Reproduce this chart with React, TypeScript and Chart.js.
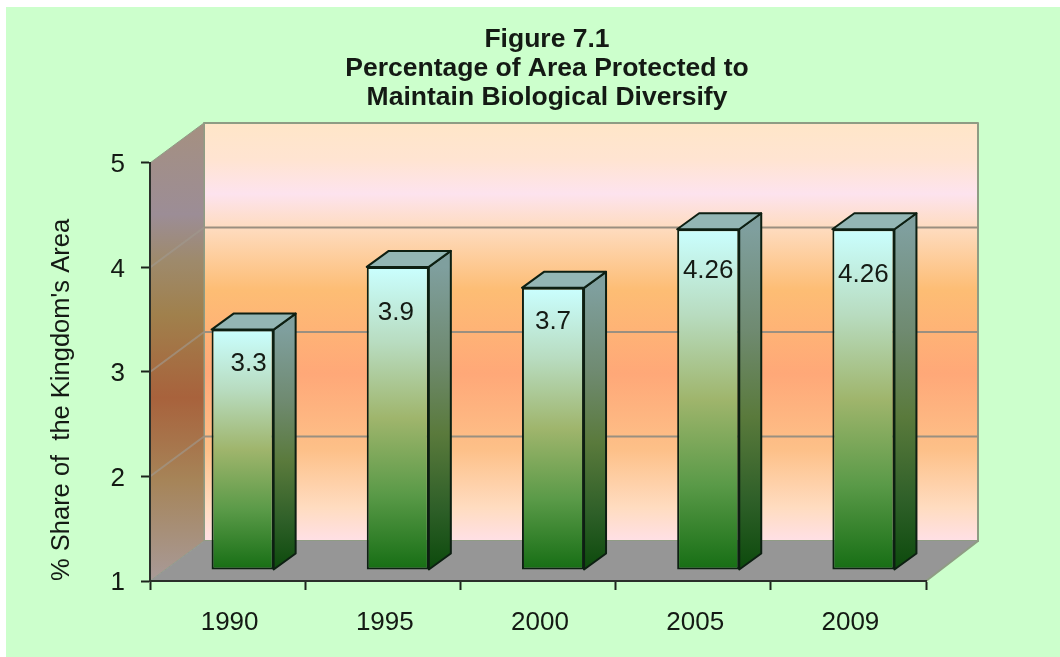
import React, { useEffect, useRef } from "react";
import { Chart, registerables } from "chart.js";

Chart.register(...registerables);

const years = ["1990", "1995", "2000", "2005", "2009"];
const shares = [3.3, 3.9, 3.7, 4.26, 4.26];
const shareLabels = ["3.3", "3.9", "3.7", "4.26", "4.26"];
const titleLines = ["Figure 7.1", "Percentage of Area Protected to", "Maintain Biological Diversify"];
const yAxisTitle = "% Share of  the Kingdom's Area";
const yTicks = [1, 2, 3, 4, 5];

const FONT = '"Liberation Sans", Arial, sans-serif';
const INK = "#141a14";
const DEPTH = { x: 54, y: -40 };
const BAR_SHIFT = { x: 15, y: -11 };
const BAR_DEPTH = { x: 22, y: -16 };
// small hand placement of each value label, relative to the bar's top centre
const LABEL_NUDGE = [
  { x: 6, y: 34 },
  { x: -2, y: 46 },
  { x: 0, y: 34 },
  { x: 0, y: 42 },
  { x: 0, y: 46 },
];

function stops(g: CanvasGradient, list: [number, string][]) {
  list.forEach(([p, c]) => g.addColorStop(p, c));
  return g;
}

function poly(ctx: CanvasRenderingContext2D, pts: number[][], fill: any, stroke?: string, lw = 1) {
  ctx.beginPath();
  pts.forEach(([x, y], i) => (i ? ctx.lineTo(x, y) : ctx.moveTo(x, y)));
  ctx.closePath();
  ctx.fillStyle = fill;
  ctx.fill();
  if (stroke) {
    ctx.strokeStyle = stroke;
    ctx.lineWidth = lw;
    ctx.lineJoin = "round";
    ctx.stroke();
  }
}

const WALL_STOPS: [number, string][] = [
  [0, "#ffe6c8"],
  [0.09, "#ffe4d2"],
  [0.17, "#fde3ee"],
  [0.25, "#fedcc0"],
  [0.4, "#fdbd74"],
  [0.6, "#ffa878"],
  [0.78, "#fdc088"],
  [0.92, "#ffdcc0"],
  [1, "#ffe0e6"],
];

const SIDE_STOPS: [number, string][] = [
  [0, "#a59080"],
  [0.2, "#9c8d96"],
  [0.3, "#9e8a6c"],
  [0.42, "#a0804c"],
  [0.6, "#a8623c"],
  [0.78, "#a68458"],
  [1, "#a89a98"],
];

const backdrop = {
  id: "backdrop",
  beforeDraw(chart: any) {
    const { ctx, width, height, chartArea: a, scales } = chart;
    const y = scales.y;
    ctx.save();
    ctx.fillStyle = "#ffffff";
    ctx.fillRect(0, 0, width, height);
    ctx.fillStyle = "#ccffcc";
    ctx.fillRect(6, 7, width - 6, height - 7);

    const bx = a.left + DEPTH.x;
    const rx = a.right + DEPTH.x - 2;
    const top = a.top + DEPTH.y;
    const bot = a.bottom + DEPTH.y;

    // back wall
    poly(ctx, [[bx, top], [rx, top], [rx, bot], [bx, bot]],
      stops(ctx.createLinearGradient(0, top, 0, bot), WALL_STOPS), "#8f9c84", 2);
    // left wall
    poly(ctx, [[a.left, a.top], [bx, top], [bx, bot], [a.left, a.bottom]],
      stops(ctx.createLinearGradient(0, top, 0, a.bottom), SIDE_STOPS), "#8f9c84", 1);
    // floor
    poly(ctx, [[a.left, a.bottom], [a.right, a.bottom], [rx, bot], [bx, bot]], "#969696");
    ctx.strokeStyle = "#8f9c84";
    ctx.lineWidth = 2;
    ctx.beginPath();
    ctx.moveTo(a.right, a.bottom);
    ctx.lineTo(rx, bot);
    ctx.lineTo(rx, top);
    ctx.stroke();

    // grid lines on the walls
    yTicks.slice(1, -1).forEach((v) => {
      const py = y.getPixelForValue(v);
      ctx.lineWidth = 2;
      ctx.strokeStyle = "rgba(160,152,142,0.65)";
      ctx.beginPath();
      ctx.moveTo(a.left, py);
      ctx.lineTo(bx, py + DEPTH.y);
      ctx.stroke();
      ctx.strokeStyle = "#9a8f80";
      ctx.beginPath();
      ctx.moveTo(bx, py + DEPTH.y);
      ctx.lineTo(rx, py + DEPTH.y);
      ctx.stroke();
    });
    ctx.restore();
  },
};

const bars3d = {
  id: "bars3d",
  beforeDatasetDraw(chart: any, args: any) {
    const { ctx } = chart;
    const meta = chart.getDatasetMeta(args.index);
    ctx.save();
    ctx.translate(BAR_SHIFT.x, BAR_SHIFT.y);
    meta.data.forEach((el: any) => {
      const l = el.x - el.width / 2;
      const r = el.x + el.width / 2;
      const t = el.y;
      const b = el.base;
      const d = BAR_DEPTH;
      const side = stops(ctx.createLinearGradient(0, t, 0, b), [
        [0, "#7f9f9e"],
        [0.3, "#6f8a70"],
        [0.55, "#5a7a3c"],
        [0.8, "#2e5f28"],
        [1, "#0c4a0c"],
      ]);
      poly(ctx, [[r, t], [r + d.x, t + d.y], [r + d.x, b + d.y], [r, b]], side, "#0d1f12", 2);
      poly(ctx, [[l, t], [l + d.x, t + d.y], [r + d.x, t + d.y], [r, t]], "#93b6b4", "#0d1f12", 2);
    });
  },
  afterDatasetDraw(chart: any, args: any) {
    const { ctx } = chart;
    const meta = chart.getDatasetMeta(args.index);
    ctx.font = `26px ${FONT}`;
    ctx.fillStyle = INK;
    ctx.textAlign = "center";
    ctx.textBaseline = "middle";
    meta.data.forEach((el: any, i: number) => {
      ctx.fillText(shareLabels[i], el.x + LABEL_NUDGE[i].x, el.y + LABEL_NUDGE[i].y);
    });
    ctx.restore();
  },
};

function barGradient(c: any) {
  const { chart, parsed } = c;
  if (!chart.chartArea || !parsed) return "#5a9a50";
  const y = chart.scales.y;
  return stops(chart.ctx.createLinearGradient(0, y.getPixelForValue(parsed.y), 0, y.getPixelForValue(1)), [
    [0, "#caffff"],
    [0.25, "#b8dcc0"],
    [0.5, "#9fb56c"],
    [0.75, "#5a9a48"],
    [1, "#166e14"],
  ]);
}

export default function App() {
  const ref = useRef<HTMLCanvasElement>(null);
  useEffect(() => {
    const chart = new Chart(ref.current!, {
      type: "bar",
      data: {
        labels: years,
        datasets: [
          {
            data: shares,
            base: 1,
            backgroundColor: barGradient,
            borderColor: "#0d1f12",
            borderWidth: 2,
            borderSkipped: false,
            barPercentage: 0.4,
            categoryPercentage: 1,
            clip: false,
          } as any,
        ],
      },
      options: {
        responsive: false,
        animation: false,
        layout: { padding: { left: 34, right: 0, top: 0, bottom: 0 } },
        plugins: {
          legend: { display: false },
          tooltip: { enabled: false },
          title: {
            display: true,
            text: titleLines,
            color: INK,
            font: { family: FONT, size: 26.5, weight: "bold", lineHeight: 1.09 },
            padding: { top: 25, bottom: 51.3 },
          },
        },
        scales: {
          x: {
            type: "category",
            grid: { display: true, drawOnChartArea: false, drawTicks: true, tickLength: 9, tickColor: "#1c241c", tickWidth: 2 },
            border: { display: true, color: "#2a2f2a", width: 2 },
            ticks: { color: INK, font: { family: FONT, size: 26 }, padding: 17, maxRotation: 0, labelOffset: 2 },
            afterFit(s: any) {
              s.height = 76;
            },
          },
          y: {
            type: "linear",
            min: 1,
            max: 5,
            grid: { display: true, drawOnChartArea: false, drawTicks: true, tickLength: 9, tickColor: "#1c241c", tickWidth: 2 },
            border: { display: true, color: "#2a2f2a", width: 2 },
            ticks: { color: INK, font: { family: FONT, size: 26 }, padding: 16, stepSize: 1, labelOffset: 2 },
            title: {
              display: true,
              text: yAxisTitle,
              color: INK,
              align: "start",
              font: { family: FONT, size: 25.5 },
              padding: { top: 13, bottom: 0 },
            },
            afterFit(s: any) {
              s.width = 116;
            },
          },
          spacer: {
            type: "linear",
            position: "right",
            display: true,
            grid: { display: false },
            border: { display: false },
            ticks: { display: false },
            afterFit(s: any) {
              s.width = 134;
            },
          },
        },
      } as any,
      plugins: [backdrop, bars3d],
    });
    return () => chart.destroy();
  }, []);
  return (
    <div style={{ position: "absolute", left: 0, top: 0 }}>
      <canvas ref={ref} width={1060} height={657} style={{ display: "block" }} />
    </div>
  );
}
